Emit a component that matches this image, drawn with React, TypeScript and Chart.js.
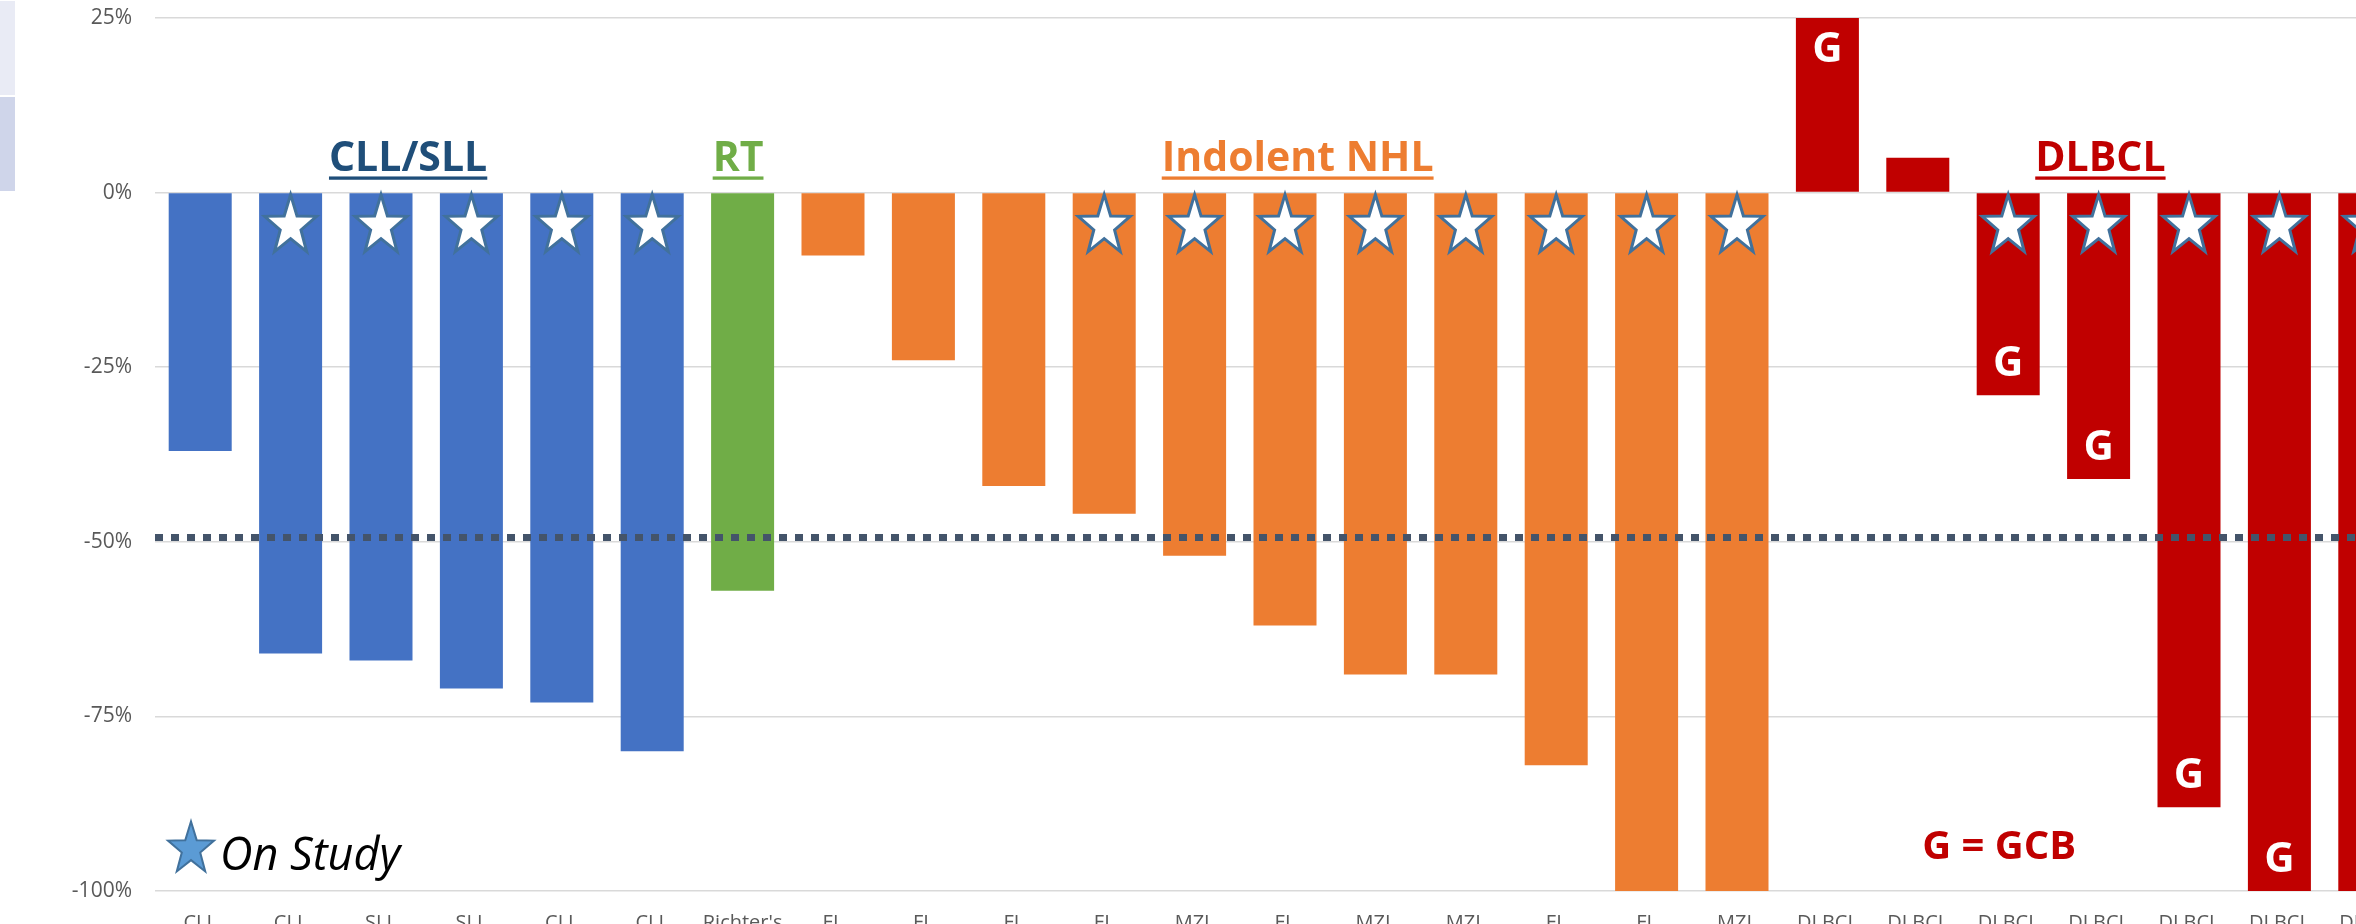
import React, { useEffect, useRef } from "react";
import { Chart, registerables } from "chart.js";

Chart.register(...registerables);

// ---------- data ----------
const CATEGORIES = [
  "CLL", "CLL", "SLL", "SLL", "CLL", "CLL", "Richter's",
  "FL", "FL", "FL", "FL", "MZL", "FL", "MZL", "MZL", "FL", "FL", "MZL",
  "DLBCL", "DLBCL", "DLBCL", "DLBCL", "DLBCL", "DLBCL", "DLBCL",
];
const BEST_CHANGE = [
  -37, -66, -67, -71, -73, -80, -57,
  -9, -24, -42, -46, -52, -62, -69, -69, -82, -100, -100,
  25, 5, -29, -41, -88, -100, -100,
];
const GROUP = [
  "CLL", "CLL", "CLL", "CLL", "CLL", "CLL", "RT",
  "NHL", "NHL", "NHL", "NHL", "NHL", "NHL", "NHL", "NHL", "NHL", "NHL", "NHL",
  "DLBCL", "DLBCL", "DLBCL", "DLBCL", "DLBCL", "DLBCL", "DLBCL",
];
const ON_STUDY = [
  0, 1, 1, 1, 1, 1, 0,
  0, 0, 0, 1, 1, 1, 1, 1, 1, 1, 1,
  0, 0, 1, 1, 1, 1, 1,
];
const GCB = [
  0, 0, 0, 0, 0, 0, 0,
  0, 0, 0, 0, 0, 0, 0, 0, 0, 0, 0,
  1, 0, 1, 1, 1, 1, 0,
];
const Y_MIN = -100;
const Y_MAX = 25;
const Y_STEP = 25;
const REFERENCE_LINE = -49.4;

// group headings: text, colour, category position, value for baseline
const GROUP_LABELS = [
  { text: "CLL/SLL", color: "#1F4E79", at: 2.3, value: 3.1 },
  { text: "RT", color: "#70AD47", at: 5.95, value: 3.1 },
  { text: "Indolent NHL", color: "#ED7D31", at: 12.14, value: 3.1 },
  { text: "DLBCL", color: "#C00000", at: 21.02, value: 3.1 },
];

const GROUP_COLORS: Record<string, string> = {
  CLL: "#4472C4",
  RT: "#70AD47",
  NHL: "#ED7D31",
  DLBCL: "#C00000",
};

function starPath(ctx: CanvasRenderingContext2D, cx: number, cy: number, rx: number, ry: number, inner: number) {
  ctx.beginPath();
  for (let k = 0; k < 10; k++) {
    const a = -Math.PI / 2 + (k * Math.PI) / 5;
    const r = k % 2 === 0 ? 1 : inner;
    const x = cx + Math.cos(a) * rx * r;
    const y = cy + Math.sin(a) * ry * r;
    if (k === 0) ctx.moveTo(x, y);
    else ctx.lineTo(x, y);
  }
  ctx.closePath();
}

const annotationPlugin = {
  id: "annotations",
  afterDatasetsDraw(chart: any) {
    const ctx: CanvasRenderingContext2D = chart.ctx;
    const xs = chart.scales.x;
    const ys = chart.scales.y;
    const area = chart.chartArea;
    const meta = chart.getDatasetMeta(0);
    ctx.save();

    // reference dotted line
    const ry = ys.getPixelForValue(REFERENCE_LINE);
    ctx.beginPath();
    ctx.setLineDash([8, 8]);
    ctx.lineWidth = 7;
    ctx.strokeStyle = "#44546A";
    ctx.moveTo(area.left, ry);
    ctx.lineTo(area.right, ry);
    ctx.stroke();
    ctx.setLineDash([]);

    const zero = ys.getPixelForValue(0);

    // stars and G labels
    meta.data.forEach((bar: any, i: number) => {
      if (ON_STUDY[i]) {
        starPath(ctx, bar.x, zero + 2 + 31.5, 27.3, 31.5, 0.4);
        ctx.fillStyle = "#FFFFFF";
        ctx.fill();
        ctx.lineWidth = 3;
        ctx.strokeStyle = "#41719C";
        ctx.stroke();
      }
      if (GCB[i]) {
        ctx.font = "bold 42px 'Open Sans'";
        ctx.fillStyle = "#FFFFFF";
        ctx.textAlign = "center";
        ctx.textBaseline = "alphabetic";
        const v = BEST_CHANGE[i];
        const end = ys.getPixelForValue(v);
        const baseline = v >= 0 ? end + 44 : end - 19;
        ctx.fillText("G", bar.x, baseline);
      }
    });

    // group headings
    GROUP_LABELS.forEach((g) => {
      ctx.font = "bold 41px 'Open Sans'";
      ctx.fillStyle = g.color;
      ctx.textAlign = "center";
      ctx.textBaseline = "alphabetic";
      const x = xs.getPixelForValue(g.at);
      const y = ys.getPixelForValue(g.value);
      ctx.fillText(g.text, x, y);
      const w = ctx.measureText(g.text).width;
      ctx.fillRect(x - w / 2, y + 5.5, w, 3.3);
    });

    // G = GCB note
    ctx.font = "bold 40px 'Open Sans'";
    ctx.fillStyle = "#C00000";
    ctx.textAlign = "center";
    ctx.fillText("G = GCB", xs.getPixelForValue(19.9), ys.getPixelForValue(-95.4));

    // On Study legend
    starPath(ctx, area.left + 36, ys.getPixelForValue(-94.0), 24.2, 27.6, 0.4);
    ctx.fillStyle = "#5B9BD5";
    ctx.fill();
    ctx.lineWidth = 2;
    ctx.strokeStyle = "#41719C";
    ctx.stroke();
    ctx.font = "italic 45px 'Open Sans'";
    ctx.fillStyle = "#000000";
    ctx.textAlign = "left";
    ctx.fillText("On Study", area.left + 65, ys.getPixelForValue(-97.0));

    ctx.restore();
  },
};

export default function App() {
  const canvasRef = useRef<HTMLCanvasElement | null>(null);

  useEffect(() => {
    if (!canvasRef.current) return;
    const chart = new Chart(canvasRef.current, {
      type: "bar",
      data: {
        labels: CATEGORIES,
        datasets: [
          {
            data: BEST_CHANGE,
            backgroundColor: GROUP.map((g) => GROUP_COLORS[g]),
            borderWidth: 0,
            categoryPercentage: 1,
            barPercentage: 0.697,
          },
        ],
      },
      options: {
        animation: false,
        responsive: false,
        devicePixelRatio: 1,
        layout: { padding: { top: 18, left: 0, right: 0, bottom: 0 } },
        plugins: { legend: { display: false }, tooltip: { enabled: false } },
        scales: {
          x: {
            grid: { display: false, drawTicks: false },
            border: { display: false },
            ticks: {
              autoSkip: false,
              maxRotation: 0,
              padding: 20,
              color: "#595959",
              font: { family: "'Open Sans'", size: 20 },
            },
            afterFit: (s: any) => {
              s.height = 69;
              s.paddingLeft = 0;
              s.paddingRight = 0;
            },
          },
          y: {
            min: Y_MIN,
            max: Y_MAX,
            grid: { color: "#D9D9D9", lineWidth: 1.5, drawTicks: false },
            border: { display: false },
            ticks: {
              stepSize: Y_STEP,
              padding: 23,
              color: "#595959",
              font: { family: "'Open Sans'", size: 21 },
              callback: (v: any) => `${v}%`,
            },
            afterFit: (s: any) => {
              s.width = 155;
              s.paddingTop = 0;
              s.paddingBottom = 0;
            },
          },
        },
      },
      plugins: [annotationPlugin],
    });
    return () => chart.destroy();
  }, []);

  return (
    <div
      style={{
        position: "fixed",
        left: 0,
        top: 0,
        width: 2356,
        height: 924,
        overflow: "hidden",
        background: "#FFFFFF",
      }}
    >
      <canvas
        ref={canvasRef}
        width={2415}
        height={960}
        style={{ position: "absolute", left: 0, top: 0, width: 2415, height: 960 }}
      />
      <div style={{ position: "absolute", left: 0, top: 1, width: 15, height: 94, background: "#E9EBF5" }} />
      <div style={{ position: "absolute", left: 0, top: 97, width: 15, height: 94, background: "#CFD5EA" }} />
    </div>
  );
}
